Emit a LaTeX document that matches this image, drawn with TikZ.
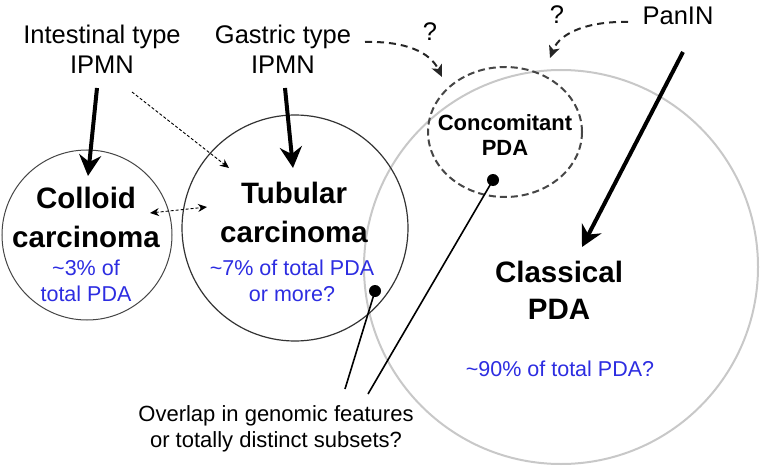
\documentclass[tikz,border=0pt]{standalone}
\usepackage{fontspec}
\setmainfont{Liberation Sans}
\usetikzlibrary{arrows.meta,shapes.geometric}
\definecolor{pctblue}{RGB}{45,45,225}
\definecolor{bigc}{RGB}{200,200,200}
\definecolor{dgray}{RGB}{70,70,70}
\tikzset{
  lbl/.style={anchor=north, inner sep=0pt, align=center},
  src/.style={lbl, font=\fontsize{25.5}{30}\selectfont},
  ttl/.style={lbl, font=\fontsize{29.5}{39}\selectfont\bfseries},
  pct/.style={lbl, text=pctblue, font=\fontsize{21.5}{26}\selectfont},
  thick arrow/.style={line width=4pt, -{Stealth[length=21pt,width=22pt,inset=7pt]}},
  thin dash/.style={line width=0.9pt, dash pattern=on 3pt off 2pt},
  curve dash/.style={line width=2pt, draw=black!85, dash pattern=on 7pt off 5pt, -{Stealth[length=12pt,width=11pt,inset=3pt]}},
  pointer/.style={line width=1.6pt},
  dot/.style={circle, fill=black, inner sep=0pt, minimum size=12pt}
}
\begin{document}
\begin{tikzpicture}[x=1pt,y=-1pt]
\useasboundingbox (0,0) rectangle (760,468);
% circles
\node[circle, draw=bigc, line width=2pt, minimum size=394pt, inner sep=0pt] (cls) at (561,267) {};
\node[circle, draw=dgray, line width=1pt, minimum size=170pt, inner sep=0pt] (col) at (87,235) {};
\node[circle, draw=black!80, line width=1.2pt, minimum size=226pt, inner sep=0pt] (tub) at (295,228) {};
\node[ellipse, draw=dgray, line width=2pt, dash pattern=on 7pt off 4pt, minimum width=154pt, minimum height=130pt, inner sep=0pt] (con) at (505,132) {};
% source labels
\node[src] (int) at (102,25) {Intestinal type\\IPMN};
\node[src] (gas) at (283,25) {Gastric type\\IPMN};
\node[src] (pan) at (678,7) {PanIN};
\node[src] (q1) at (430,22) {?};
\node[src] (q2) at (557,5) {?};
% titles
\node[ttl] (colt) at (86,187) {Colloid\\carcinoma};
\node[ttl] (tubt) at (294,182) {Tubular\\carcinoma};
\node[ttl, font=\fontsize{29.5}{37}\selectfont\bfseries] (clst) at (559,261) {Classical\\PDA};
\node[lbl, font=\fontsize{22}{25}\selectfont\bfseries] (cont) at (505,114) {Concomitant\\PDA};
% percentages
\node[pct] (colp) at (86,260) {\textasciitilde3\% of\\total PDA};
\node[pct] (tubp) at (292,260) {\textasciitilde7\% of total PDA\\or more?};
\node[pct] (clsp) at (560,361) {\textasciitilde90\% of total PDA?};
% question text
\node[lbl, font=\fontsize{22}{26}\selectfont] (ovl) at (276,405) {Overlap in genomic features\\or totally distinct subsets?};
% connector end points
\coordinate (intA) at (97,88);  \coordinate (intB) at (88,176);
\coordinate (gasA) at (285,88); \coordinate (gasB) at (293,168);
\coordinate (panA) at (683,52); \coordinate (panB) at (582,247);
\coordinate (intC) at (132,92); \coordinate (tubA) at (229,168);
\coordinate (colE) at (150,213); \coordinate (tubE) at (207,207);
\coordinate (gasC) at (365,42); \coordinate (conA) at (442,77);
\coordinate (panC) at (628,22); \coordinate (conB) at (550,58);
\node[dot] (d1) at (375,291) {};
\node[dot] (d2) at (493,180) {};
\coordinate (p1) at (345,389);
\coordinate (p2) at (368,394);
% connectors
\draw[thick arrow] (intA) -- (intB);
\draw[thick arrow] (gasA) -- (gasB);
\draw[thick arrow] (panA) -- (panB);
\draw[thin dash, -{Stealth[length=9pt,width=8pt]}] (intC) -- (tubA);
\draw[thin dash, {Stealth[length=9pt,width=8pt]}-{Stealth[length=9pt,width=8pt]}] (colE) -- (tubE);
\draw[curve dash] (gasC) .. controls (405,41) and (430,52) .. (conA);
\draw[curve dash] (panC) .. controls (590,21) and (560,32) .. (conB);
\draw[pointer] (d1.center) -- (p1);
\draw[pointer] (d2.center) -- (p2);
\end{tikzpicture}
\end{document}
